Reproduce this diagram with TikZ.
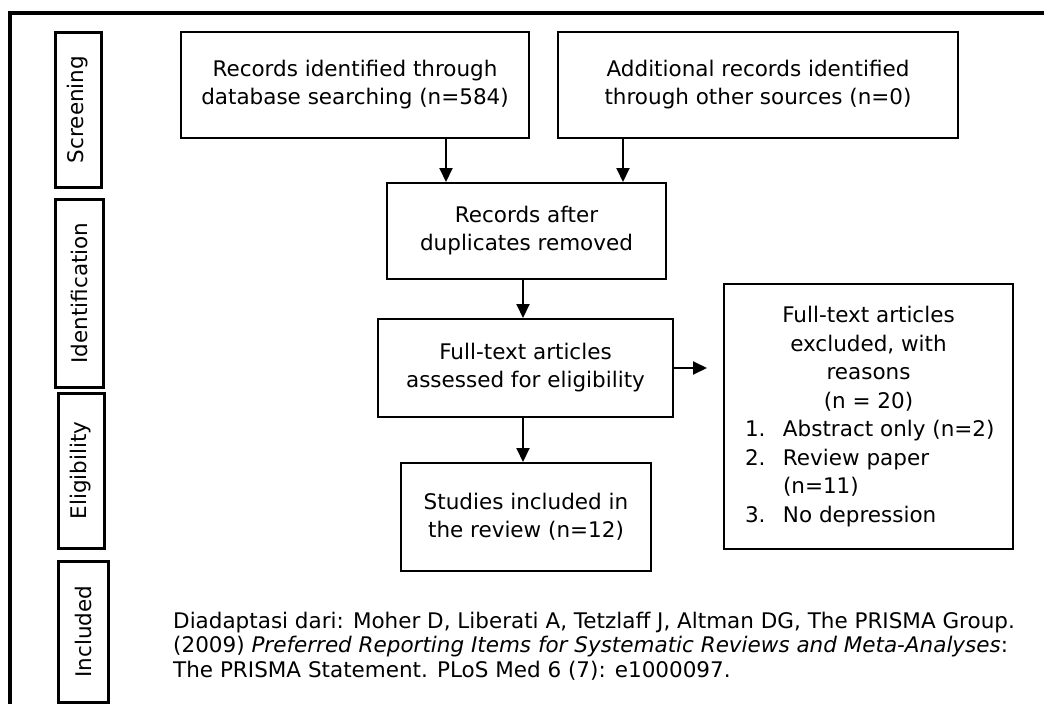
\documentclass[tikz,border=0pt]{standalone}
\usepackage{fontspec}
\setmainfont{DejaVu Sans}
\usetikzlibrary{arrows.meta}
\newcommand{\itm}[2]{\makebox[247pt][l]{\makebox[38pt][l]{#1}#2}}
\tikzset{bx/.style={draw,line width=2pt,align=center,inner sep=0pt,font=\fontsize{21.5}{28}\selectfont},
  side/.style={draw,line width=3pt,rotate=90,inner sep=0pt,font=\fontsize{21.5}{26}\selectfont},
  arr/.style={line width=2pt,-{Triangle[width=13pt,length=14pt]}}}

\begin{document}
\begin{tikzpicture}[x=1pt,y=-1pt]
\useasboundingbox (0,0) rectangle (1044,704);
\draw[line width=4pt] (10,720) -- (10,13) -- (1060,13);
\foreach \n/\lab/\cx/\cy/\w/\h in {scr/Screening/78/109.5/46/155,idf/Identification/79/293/48/188,elg/Eligibility/81/470.5/46/155,inc/Included/83/631.5/50/141}
  \node[side,minimum width=\h,minimum height=\w] (\n) at (\cx,\cy) {\lab};
\node[bx,minimum width=348,minimum height=106] (rec) at (355,85) {Records identified through\\database searching (n=584)};
\node[bx,minimum width=400,minimum height=106] (add) at (758,85) {Additional records identified\\through other sources (n=0)};
\node[bx,minimum width=279,minimum height=96] (dup) at (526.5,231) {Records after\\duplicates removed};
\node[bx,minimum width=295,minimum height=98] (full) at (525.5,368) {Full-text articles\\assessed for eligibility};
\node[bx,minimum width=250,minimum height=108] (incl) at (526,517) {Studies included in\\the review (n=12)};
\node[bx,minimum width=289,minimum height=265,font=\fontsize{21.5}{28.5}\selectfont] (excl) at (868.5,416.5) {Full-text articles\\excluded, with\\reasons\\(n = 20)\\
  \itm{1.}{Abstract only (n=2)}\\\itm{2.}{Review paper}\\\itm{}{(n=11)}\\\itm{3.}{No depression}};
\node[anchor=north west,inner sep=0pt,align=left,font=\fontsize{21.5}{24.5}\selectfont] (src) at (173,611.7) {Diadaptasi dari: Moher D, Liberati A, Tetzlaff J, Altman DG, The PRISMA Group.\\(2009) \textit{Preferred Reporting Items for Systematic Reviews and Meta-Analyses}:\\The PRISMA Statement. PLoS Med 6 (7): e1000097.};
\coordinate (ca) at (446,0); \coordinate (cb) at (623,0); \coordinate (cm) at (523,0); \coordinate (ce) at (707,0);
\draw[arr] (rec.south -| ca) -- (dup.north -| ca);
\draw[arr] (add.south -| cb) -- (dup.north -| cb);
\draw[arr] (dup.south -| cm) -- (full.north -| cm);
\draw[arr] (full.south -| cm) -- (incl.north -| cm);
\draw[arr] (full.east) -- (full.east -| ce);
\end{tikzpicture}
\end{document}
